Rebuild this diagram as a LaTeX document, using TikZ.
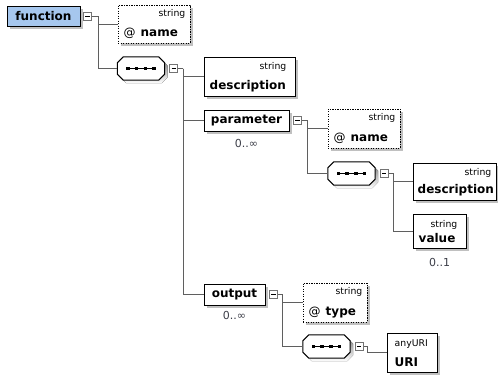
\documentclass[tikz,border=0pt]{standalone}
\usepackage{fontspec}
\setmainfont{DejaVu Sans}
\usetikzlibrary{shadows}

\definecolor{elemblue}{RGB}{166,199,238}
\definecolor{shade}{RGB}{192,192,192}
\definecolor{wire}{RGB}{95,95,95}
\definecolor{cardink}{RGB}{60,62,72}

% octagon outline of a sequence compositor, offset by (#2,#3)
\newcommand\octagon[3]{%
 ([xshift=#2+6pt,yshift=#3]#1.north west) -- ([xshift=#2-6pt,yshift=#3]#1.north east)
 -- ([xshift=#2,yshift=#3-6pt]#1.north east) -- ([xshift=#2,yshift=#3+6pt]#1.south east)
 -- ([xshift=#2-6pt,yshift=#3]#1.south east) -- ([xshift=#2+6pt,yshift=#3]#1.south west)
 -- ([xshift=#2,yshift=#3+6pt]#1.south west) -- ([xshift=#2,yshift=#3-6pt]#1.north west) -- cycle}

% full sequence symbol: shadow, outline and the four linked squares
\newcommand\seqsymbol[1]{%
 \fill[shade] \octagon{#1}{3pt}{-3pt};
 \filldraw[fill=white, draw=black, line width=1pt] \octagon{#1}{0pt}{0pt};
 \draw[line width=1pt] ([xshift=-13pt]#1.center) -- ([xshift=13pt]#1.center);
 \foreach \dx in {-13,-4.33,4.33,13}
   {\fill ([xshift=\dx pt]#1.center) +(-1.8,-1.8) rectangle +(1.8,1.8);}
}

\tikzset{
  boxshadow/.style={drop shadow={shadow xshift=3pt, shadow yshift=-3pt, fill=shade, opacity=1}},
  elem/.style={draw=black, line width=1pt, fill=white, inner sep=0pt, boxshadow,
               font=\fontsize{12}{14}\selectfont\bfseries},
  attr/.style={elem, dash pattern=on 1.2pt off 1.3pt},
  seqbox/.style={inner sep=0pt, minimum width=47pt, minimum height=23pt},
  typ/.style={inner sep=0pt, font=\fontsize{9.3}{10}\selectfont},
  nm/.style={inner sep=0pt, font=\fontsize{12}{14}\selectfont\bfseries},
  card/.style={inner sep=0pt, text=cardink, font=\fontsize{11}{12}\selectfont},
  tog/.style={draw=black!55, fill=white, line width=0.8pt, minimum size=8pt, inner sep=0pt,
    path picture={\draw[black, line width=0.9pt]
      ([xshift=1.8pt]path picture bounding box.west) --
      ([xshift=-1.8pt]path picture bounding box.east);}},
  conn/.style={draw=wire, line width=1pt}
}

\begin{document}
\begin{tikzpicture}[x=1pt, y=-1pt]
\useasboundingbox (0,0) rectangle (498,378);

% ---------- function ----------
\node[elem, fill=elemblue, minimum width=73pt, minimum height=20pt] (fn) at (43.5,16) {function};
\node[tog] (tfn) at ([xshift=7pt]fn.east) {};

\node[attr, minimum width=72pt, minimum height=38pt] (an1) at (154,24) {};
\node[typ, anchor=base east] (an1t) at ([xshift=-5pt,yshift=-12pt]an1.north east) {string};
\node[nm, anchor=base west] (an1n) at ([xshift=6pt,yshift=7pt]an1.south west) {\mdseries @\hspace{5pt}\bfseries name};

\node[seqbox] (sq1) at (141,68.5) {};
\seqsymbol{sq1}
\node[tog] (tsq1) at ([xshift=9pt]sq1.east) {};

% ---------- children of the first sequence ----------
\node[elem, minimum width=91pt, minimum height=39pt] (d1) at (249.5,76.5) {};
\node[typ, anchor=base east] (d1t) at ([xshift=-9pt,yshift=-13pt]d1.north east) {string};
\node[nm, anchor=base west] (d1n) at ([xshift=6pt,yshift=7pt]d1.south west) {description};

\node[elem, minimum width=85pt, minimum height=21pt] (pm) at (246.5,120.5) {parameter};
\node[tog] (tpm) at ([xshift=8pt]pm.east) {};
\node[card] (pmc) at ([yshift=-12pt]pm.south) {0..∞};

\node[elem, minimum width=61pt, minimum height=21pt] (op) at (234.5,294.5) {output};
\node[tog] (top) at ([xshift=8pt]op.east) {};
\node[card] (opc) at ([yshift=-10pt]op.south) {0..∞};

% ---------- parameter content ----------
\node[attr, minimum width=72pt, minimum height=39pt] (an2) at (364,128.5) {};
\node[typ, anchor=base east] (an2t) at ([xshift=-5pt,yshift=-12pt]an2.north east) {string};
\node[nm, anchor=base west] (an2n) at ([xshift=6pt,yshift=7pt]an2.south west) {\mdseries @\hspace{5pt}\bfseries name};

\node[seqbox] (sq2) at (351.5,173.5) {};
\seqsymbol{sq2}
\node[tog] (tsq2) at ([xshift=9pt]sq2.east) {};

\node[elem, minimum width=83pt, minimum height=37pt] (d2) at (454.5,181.5) {};
\node[typ, anchor=base east] (d2t) at ([xshift=-5pt,yshift=-13pt]d2.north east) {string};
\node[nm, anchor=base west] (d2n) at ([xshift=5pt,yshift=7pt]d2.south west) {description};

\node[elem, minimum width=53pt, minimum height=34pt] (vl) at (439.5,231) {};
\node[typ, anchor=base east] (vlt) at ([xshift=-9pt,yshift=-14pt]vl.north east) {string};
\node[nm, anchor=base west] (vln) at ([xshift=6pt,yshift=6pt]vl.south west) {value};
\node[card] (vlc) at ([yshift=-14pt]vl.south) {0..1};

% ---------- output content ----------
\node[attr, minimum width=64pt, minimum height=39pt] (ty) at (335,302.5) {};
\node[typ, anchor=base east] (tyt) at ([xshift=-5pt,yshift=-12pt]ty.north east) {string};
\node[nm, anchor=base west] (tyn) at ([xshift=6pt,yshift=7pt]ty.south west) {\mdseries @\hspace{5pt}\bfseries type};

\node[seqbox] (sq3) at (326.5,346.5) {};
\seqsymbol{sq3}
\node[tog] (tsq3) at ([xshift=9pt]sq3.east) {};

\node[elem, minimum width=50pt, minimum height=39pt] (ur) at (412,352.5) {};
\node[typ, anchor=base west] (urt) at ([xshift=8pt,yshift=-14pt]ur.north west) {anyURI};
\node[nm, anchor=base west] (urn) at ([xshift=8pt,yshift=6pt]ur.south west) {URI};

% ---------- connectors ----------
\draw[conn] (tfn.east) -- ++(7,0) coordinate (j1);
\draw[conn] (j1) |- (an1.west);
\draw[conn] (j1) |- (sq1.west);

\draw[conn] (tsq1.east) -- ++(5,0) coordinate (j2);
\draw[conn] (j2) |- (d1.west);
\draw[conn] (j2) |- (pm.west);
\draw[conn] (j2) |- (op.west);

\draw[conn] (tpm.east) -- ++(6,0) coordinate (j3);
\draw[conn] (j3) |- (an2.west);
\draw[conn] (j3) |- (sq2.west);

\draw[conn] (tsq2.east) -- ++(5,0) coordinate (j4);
\draw[conn] (j4) |- (d2.west);
\draw[conn] (j4) |- (vl.west);

\draw[conn] (top.east) -- ++(5,0) coordinate (j5);
\draw[conn] (j5) |- (ty.west);
\draw[conn] (j5) |- (sq3.west);

\draw[conn] (tsq3.east) -- ++(4,0) coordinate (j6);
\draw[conn] (j6) |- (ur.west);
\end{tikzpicture}
\end{document}
